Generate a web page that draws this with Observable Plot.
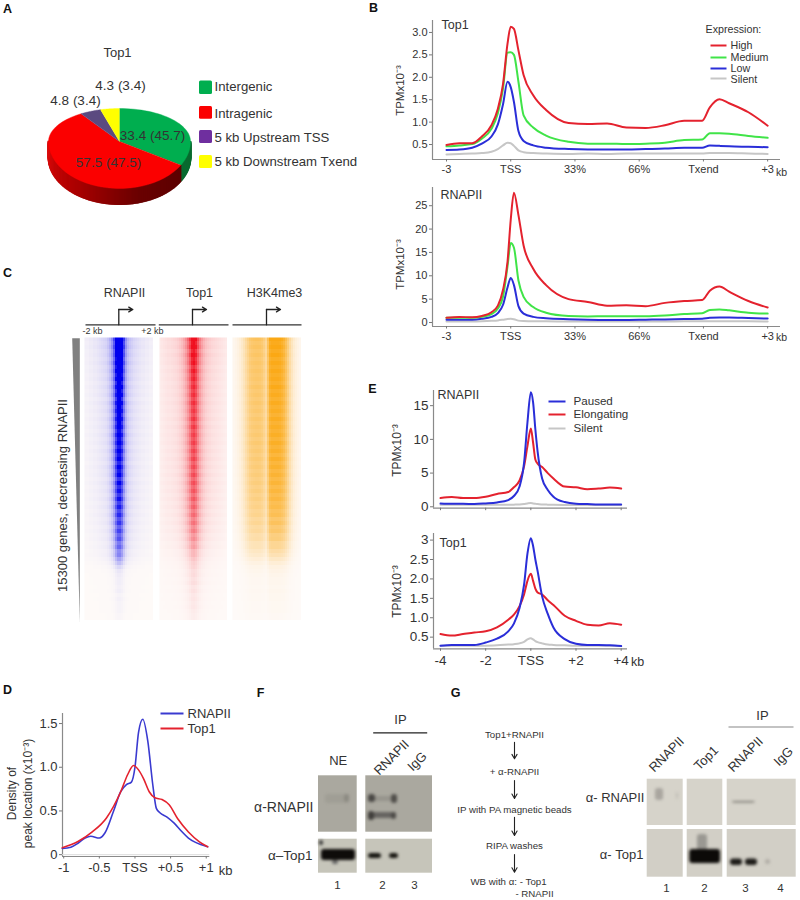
<!DOCTYPE html>
<html><head><meta charset="utf-8">
<script src="https://cdn.jsdelivr.net/npm/d3@7"></script>
<script src="https://cdn.jsdelivr.net/npm/@observablehq/plot@0.6"></script>
<style>
html,body{margin:0;padding:0;background:#fff}
#root{position:relative;width:800px;height:900px;overflow:hidden;background:#fff}
#root svg{position:absolute;max-width:none}
</style></head>
<body><div id="root"></div>
<script>
// ---------- DATA ----------
const pieNames = ["Intergenic","Intragenic","5 kb Upstream TSS","5 kb Downstream Txend"];
const pieValues = [33.4,57.5,4.8,4.3];
const pieColors = ["#00ae4f","#fb0000","#5b4a80","#ffff00"];

const bX = [0,.2,.4,.55,.7,.8,.88,.95,1,1.05,1.12,1.2,1.35,1.55,1.9,2.2,2.5,2.8,3.1,3.4,3.7,3.98,4.1,4.25,4.4,4.7,5];
const bTicks = [0,1,2,3,4,5];
const bLabels = ["-3","TSS","33%","66%","Txend","+3"];
const top1High = [.49,.53,.53,.68,.93,1.3,1.85,2.75,3.13,3.08,2.6,2.05,1.6,1.27,.98,.96,.97,.88,.87,.93,1.03,1.03,1.33,1.51,1.42,1.22,.92];
const top1Medium = [.46,.48,.51,.63,.85,1.2,1.75,2.55,2.56,2.5,1.9,1.15,.88,.7,.56,.52,.52,.51,.52,.54,.6,.61,.75,.75,.74,.69,.65];
const top1Low = [.38,.39,.43,.52,.68,.95,1.4,1.9,1.78,1.45,.8,.58,.48,.43,.4,.39,.39,.39,.4,.41,.43,.43,.48,.47,.46,.45,.44];
const top1Silent = [.28,.29,.3,.31,.34,.4,.48,.54,.53,.47,.37,.33,.31,.3,.29,.3,.29,.3,.3,.3,.3,.3,.31,.31,.31,.3,.29];
const polHigh = [1,1.2,1.1,1.4,2.2,3.6,7,13,22,27.8,23,16.5,11.5,8,5,4.4,3.6,3.7,3.5,4.2,4.6,4.8,6.8,7.7,6.6,4.6,3.2];
const polMedium = [1,1,1,1.2,1.8,3,5.5,12,17,16,9,5.5,3.3,2.1,1.4,1.3,1.35,1.35,1.35,1.5,1.8,2,2.7,2.8,2.6,2.1,1.9];
const polLow = [.6,.6,.6,.8,1.2,2,3.8,7.5,9.5,8,3.5,1.9,1.2,.9,.7,.6,.55,.55,.6,.65,.75,.8,1,1.05,1.05,.95,.85];
const polSilent = [.2,.2,.2,.25,.35,.45,.6,.75,.8,.7,.4,.3,.25,.25,.2,.2,.2,.2,.2,.2,.25,.25,.25,.25,.25,.25,.2];

const eX = [-4,-3.5,-3,-2.5,-2,-1.5,-1,-.75,-.5,-.3,-.15,0,.1,.2,.3,.5,.75,1,1.5,2,2.5,3,3.5,4];
const ePolPaused = [.5,.45,.45,.4,.5,.65,1,1.6,3,6.5,12.5,17,15.5,11.5,8.2,4.2,2.5,1.5,.7,.45,.4,.35,.35,.35];
const ePolElong = [1.3,1.45,1.3,1.3,1.5,1.9,2.2,2.9,3.9,6,9,11.6,9.5,7,6.4,5.9,5,4.2,3,2.9,2.6,2.7,2.85,2.7];
const ePolSilent = [.3,.3,.3,.3,.3,.3,.3,.32,.35,.42,.5,.55,.5,.45,.4,.35,.32,.3,.28,.27,.26,.25,.25,.25];
const eTopPaused = [.28,.3,.3,.3,.36,.46,.65,.85,1.25,1.85,2.65,3.05,2.85,2.5,2.2,1.55,1.1,.75,.45,.33,.3,.3,.29,.27];
const eTopElong = [.58,.54,.58,.62,.65,.75,.95,1.08,1.3,1.6,1.95,2.13,1.95,1.75,1.65,1.6,1.45,1.33,1.05,.92,.82,.8,.86,.82];
const eTopSilent = [.28,.28,.28,.28,.28,.29,.31,.32,.34,.38,.44,.47,.44,.4,.37,.34,.31,.3,.29,.28,.28,.28,.28,.27];

const dPolX = [-1.02,-.9,-.8,-.7,-.62,-.5,-.42,-.3,-.2,-.12,-.05,0,.05,.11,.18,.25,.3,.35,.45,.55,.65,.75,.85,1.02];
const dPol = [.07,.085,.13,.19,.21,.19,.25,.5,.72,.8,.83,1,1.4,1.55,1.3,.8,.53,.48,.43,.36,.27,.19,.14,.09];
const dTopX = [-1.02,-.8,-.6,-.4,-.2,-.1,-.02,.05,.12,.2,.28,.38,.48,.6,.75,.9,1.02];
const dTop = [.08,.15,.26,.42,.72,.92,1.02,.97,.87,.72,.65,.63,.57,.41,.26,.15,.09];

const heatPolRows = [1.7,1.5,1.65,1.4,1.5,1.3,1.5,1.25,1.4,1.2,1.35,1.1,1.3,1.1,1.25,1,1.25,1.05,1.2,1,1.2,1,1.15,.95,1.15,.95,1.1,.9,1.1,.92,1.05,.85,1.05,.9,1,.8,1,.82,.95,.78,.95,.75,.9,.72,.85,.68,.8,.62,.75,.6,.68,.52,.6,.45,.48,.35,.24,.14,.08,.06,.05,.05,.04,.05,.03,.04,.03,.03,.03,.02,.02];
const heatPolCols = [.03,.03,.04,.04,.05,.05,.06,.07,.08,.09,.1,.13,.18,.26,.42,.72,.98,1,.78,.46,.26,.17,.13,.11,.09,.08,.07,.06,.05,.05,.04,.04,.03,.03];
const heatTopRows = [1.3,1.15,1.25,1.05,1.2,1.05,1.12,.95,1.08,.95,1.03,.9,1,.88,.98,.85,.98,.85,.93,.82,.95,.8,.93,.8,.9,.8,.9,.76,.88,.76,.88,.74,.85,.72,.85,.7,.83,.7,.8,.66,.78,.64,.74,.6,.7,.56,.66,.52,.6,.46,.52,.4,.44,.32,.32,.25,.2,.18,.14,.15,.12,.14,.1,.12,.09,.1,.08,.09,.07,.06,.06];
const heatTopCols = [.06,.07,.08,.09,.1,.1,.11,.12,.13,.15,.18,.22,.28,.36,.48,.64,.84,.9,.78,.58,.42,.32,.25,.2,.17,.15,.13,.12,.11,.1,.09,.08,.07,.06];
const heatH3Rows = [1.05,.96,1.02,.94,1,.92,.98,.92,.98,.92,.96,.9,.98,.9,.95,.88,.95,.88,.93,.86,.94,.86,.92,.86,.92,.84,.92,.84,.9,.82,.9,.82,.88,.8,.86,.78,.84,.76,.82,.74,.8,.72,.76,.68,.72,.62,.68,.58,.62,.52,.54,.44,.44,.36,.3,.22,.15,.1,.08,.06,.05,.05,.04,.05,.04,.04,.03,.03,.03,.02,.02];
const heatH3Cols = [.05,.07,.1,.14,.2,.28,.38,.48,.58,.62,.64,.65,.65,.64,.6,.52,.42,.68,.95,1,1,1,1,.98,.92,.84,.7,.54,.38,.26,.17,.12,.08,.05];

// ---------- HELPERS ----------
const FONT = "'Liberation Sans', Arial, sans-serif";
const TXT = "#333";
const root = document.getElementById("root");
function place(svg,left,top){svg.style.left=left+"px";svg.style.top=top+"px";root.append(svg);}
function tidy(xs,names,arrs){return names.flatMap((n,k)=>arrs[k].map((y,i)=>({x:xs[i],y,s:n})));}
const expNames=["Silent","Low","Medium","High"], expColors=["#c6c6c6","#2a2ed8","#40e448","#e4222e"];

function lineChart(o){
  const pad={l:50,r:12,t:6,b:24};
  const w=o.box[1]-o.box[0]+pad.l+pad.r, h=o.box[3]-o.box[2]+pad.t+pad.b;
  const fmt=new Map(o.xTicks.map((t,i)=>[t,o.xLabels[i]]));
  const marks=[
    Plot.ruleX([o.xDomain[0]],{stroke:"#8a8a8a",strokeWidth:1.2}),
    Plot.ruleY([o.yDomain[0]],{stroke:"#8a8a8a",strokeWidth:1.2}),
    Plot.axisX({ticks:o.xTicks,tickFormat:d=>fmt.get(d),label:null,tickSize:2.5,tickPadding:o.xPad||3,fontSize:o.fs,stroke:"#777",fill:TXT}),
    Plot.axisY({ticks:o.yTicks,tickFormat:o.yFormat,label:null,tickSize:3,tickPadding:2,fontSize:o.fsY||o.fs,stroke:"#777",fill:TXT}),
    ...(o.extra||[]),
    Plot.line(o.rows,{x:"x",y:"y",z:"s",stroke:"s",strokeWidth:o.sw||2,curve:"monotone-x",strokeLinejoin:"round"})
  ];
  const svg=Plot.plot({width:w,height:h,marginLeft:pad.l,marginRight:pad.r,marginTop:pad.t,marginBottom:pad.b,
    style:{background:"transparent",fontFamily:FONT,overflow:"visible"},
    x:{domain:o.xDomain,label:null},y:{domain:o.yDomain,label:null},
    color:{domain:o.names,range:o.colors},marks});
  place(svg,o.box[0]-pad.l,o.box[2]-pad.t);
}
function heat(box,rows,cols,color){
  const vals=rows.flatMap(r=>cols.map(c=>Math.min(1,r*c)));
  const svg=Plot.plot({width:box[1]-box[0],height:box[3]-box[2],margin:0,
    style:{background:"transparent"},
    x:{domain:[0,cols.length],axis:null},y:{domain:[rows.length,0],axis:null},
    color:{type:"linear",domain:[0,1],range:["#fefaf8",color]},
    marks:[Plot.raster(vals,{width:cols.length,height:rows.length,x1:0,x2:cols.length,y1:0,y2:rows.length,fill:d=>d,imageRendering:"pixelated"})]});
  place(svg,box[0],box[2]);
}

// ---------- PANEL A : pie ----------
(function(){
  const rx=71,upper=33/71,lower=47/71,depth=17/71;
  const total=d3.sum(pieValues);
  let acc=0; const poly=[];
  const edge=t=>({x:Math.sin(t),y:Math.cos(t)*(Math.cos(t)>0?upper:lower)});
  pieValues.forEach((v,k)=>{
    const a0=acc/total*2*Math.PI,a1=(acc+v)/total*2*Math.PI; acc+=v;
    poly.push({k,c:pieColors[k],x:0,y:0});
    for(const t of d3.range(0,41)) poly.push({k,c:pieColors[k],...edge(a0+(a1-a0)*t/40)});
  });
  const g=pieValues[0]/total*2*Math.PI;
  const ang=d3.range(90,271,.7).map(d=>d*Math.PI/180);
  const redShade=d3.scaleLinear().domain([120,165,215,270].map(d=>d*Math.PI/180)).range(["#5c0000","#6a0000","#a80000","#d80a0a"]);
  const strips=ang.map(t=>({...edge(t),c:t<g?"#0a6b30":redShade(t)}));
  const svg=Plot.plot({width:180,height:125,margin:0,
    style:{background:"transparent"},
    x:{domain:[-79/rx,101/rx],axis:null},y:{domain:[-84/rx,41/rx],axis:null},
    color:{type:"identity"},
    marks:[
      Plot.ruleX(strips,{x:"x",y1:"y",y2:d=>d.y-depth,stroke:"c",strokeWidth:1.8}),
      Plot.line(poly,{x:"x",y:"y",z:"k",fill:"c",stroke:"c",strokeWidth:.4})
    ]});
  place(svg,40,100);
})();

// ---------- ANNOTATION LAYER ----------
const blotPanels=[
 {x1:318,x2:356.7,y1:775.3,y2:831.7,c:"#aaa89f"},{x1:365.3,x2:432,y1:775.3,y2:831.7,c:"#aaa89f"},
 {x1:318,x2:356.7,y1:838.7,y2:872.7,c:"#c6c5ba"},{x1:365.3,x2:432,y1:838.7,y2:872.7,c:"#c6c5ba"},
 {x1:646.7,x2:682.7,y1:778.7,y2:825,c:"#d6d3ca"},{x1:686.7,x2:722.3,y1:778.7,y2:825,c:"#d6d3ca"},{x1:726.7,x2:795.7,y1:778.7,y2:825,c:"#d6d3ca"},
 {x1:646.7,x2:682.7,y1:829,y2:876.7,c:"#d2cfc6"},{x1:686.7,x2:722.3,y1:829,y2:876.7,c:"#d2cfc6"},{x1:726.7,x2:795.7,y1:829,y2:876.7,c:"#d2cfc6"}];
const blotBands=[
 {x1:325,x2:349,y1:794,y2:803,c:"#a09e95"},{x1:344,x2:349,y1:794,y2:802,c:"#8c8a82"},
 {x1:369,x2:396,y1:796,y2:801,c:"#96948c"},{x1:368,x2:375,y1:794,y2:802,c:"#4a4845"},{x1:391,x2:397,y1:794,y2:803,c:"#504e4a"},
 {x1:369,x2:396,y1:812,y2:818,c:"#666460"},{x1:368,x2:374,y1:811,y2:820,c:"#403e3b"},{x1:391,x2:396,y1:812,y2:819,c:"#4c4a47"},
 {x1:321,x2:355,y1:849,y2:860,c:"#0e0c0a"},{x1:319,x2:323,y1:840,y2:845,c:"#333"},{x1:332,x2:338,y1:860,y2:864,c:"#666"},
 {x1:368,x2:381,y1:853,y2:858,c:"#15140f"},{x1:389,x2:398,y1:853,y2:858,c:"#15140f"},
 {x1:655,x2:663,y1:788,y2:800,c:"#a9a59f"},{x1:676,x2:678,y1:792,y2:799,c:"#c0bdb5"},
 {x1:731.7,x2:755,y1:801,y2:802.5,c:"#77756e"},
 {x1:697,x2:707,y1:834,y2:851,c:"#9a9892"},{x1:689.3,x2:720,y1:849,y2:863,c:"#0c0a08"},
 {x1:730,x2:742,y1:858.5,y2:865,c:"#1d1b18"},{x1:745,x2:757,y1:858.5,y2:865,c:"#1d1b18"},
 {x1:765,x2:770,y1:859,y2:864,c:"#b1ada6"}];
const panelLetters=[["A",7,8],["B",373,7],["C",7,272],["D",7,689],["E",372,388],["F",260,692],["G",455,692]].map(([t,x,y])=>({t,x,y}));
const textStart=[
 ["Intergenic",214,86,13.2],["Intragenic",214,113,13.2],["5 kb Upstream TSS",214,137,13.2],["5 kb Downstream Txend",214,161,13.2],
 ["Top1",441,24,12.5],["RNAPII",440,194,12.5],["Expression:",705,29,10.7],["High",730,45,10.7],["Medium",730,57,10.7],["Low",730,68,10.7],["Silent",730,79,10.7],
 ["RNAPII",437,394,12.5],["Top1",439,542,12.5],["Paused",573,401,11.6],["Elongating",573,414,11.6],["Silent",573,428,11.6],
 ["RNAPII",187,713,13],["Top1",187,728,13]
].map(([t,x,y,s])=>({t,x,y,s}));
const textMiddle=[
 ["Top1",117,52,13],["4.3 (3.4)",120,85,13.5],["4.8 (3.4)",75,100,13.5],["33.4 (45.7)",152,135,13.5],["57.5 (47.5)",108,162,13.5],
 ["kb",781,172,10.5],["kb",781,337,10.5],
 ["RNAPII",124,292,12.5],["Top1",199,292,12.5],["H3K4me3",274,292,12.5],["-2 kb",92,331,9],["+2 kb",152,331,9],
 ["kb",637,661,12.5],["kb",225,870,13],
 ["IP",400,719,13],["NE",337.7,760,13],["1",337,885,11.5],["2",382,885,11.5],["3",414,885,11.5],
 ["IP",762,715,13],["1",666,888,11.5],["2",704,888,11.5],["3",745,888,11.5],["4",780,888,11.5],
 ["Top1+RNAPII",514,734,9.7],["+ α-RNAPII",514,771,9.7],["IP with PA magnetic beads",514,809,9.7],["RIPA washes",514,845,9.7],["WB with α: - Top1",508,881,9.7],["- RNAPII",534,893,9.7]
].map(([t,x,y,s])=>({t,x,y,s}));
const textEnd=[["α-RNAPII",313,807,14],["α–Top1",312,855,13.5],["α- RNAPII",644,797,13],["α- Top1",643,854,13]].map(([t,x,y,s])=>({t,x,y,s}));
const textRot=[
 ["TPMx10⁻³",400,90,11.5],["TPMx10⁻³",400,264,11.5],["15300 genes, decreasing RNAPII",62.7,495,13],
 ["TPMx10⁻³",397,450,12],["TPMx10⁻³",397,591,12],["Density of",12,793,12],["peak location (x10⁻³)",28,793,12]
].map(([t,x,y,s])=>({t,x,y,s}));
const textTilt=[["RNAPII",391,757,13],["IgG",416.7,761,13],["RNAPII",666,754,13],["Top1",705.7,757.7,13],["RNAPII",745,754,13],["IgG",783,756,13]].map(([t,x,y,s])=>({t,x,y,s}));
const legendKeys=[
 {x1:710,x2:726,y:45,c:"#e4222e"},{x1:710,x2:726,y:57,c:"#40e448"},{x1:710,x2:726,y:68,c:"#2a2ed8"},{x1:710,x2:726,y:78,c:"#c6c6c6"},
 {x1:548,x2:565,y:401,c:"#2a2ed8"},{x1:548,x2:565,y:414,c:"#e4222e"},{x1:548,x2:565,y:428,c:"#c6c6c6"},
 {x1:160,x2:183,y:713,c:"#3a3ad0"},{x1:160,x2:183,y:728,c:"#e4222e"}];
const swatchColors=["#00ae4f","#fb0000","#6f2f9f","#ffff00"];
const keySwatches=swatchColors.map((c,i)=>({c,y1:[80.5,106,130,155][i],y2:[94,118.7,143,168][i]}));
const rules=[
 {x1:85,x2:155,y:324.3,c:"#333"},{x1:158.3,x2:228,y:324.3,c:"#333"},{x1:232,x2:301,y:324.3,c:"#333"},
 {x1:372.7,x2:426.7,y:732.3,c:"#222"},{x1:728,x2:793,y:726.5,c:"#888"}];
const tssElbows=[118.3,192,266];
const flowArrows=[[741.7,758.3],[780,798],[816.7,835],[854,871.7]];
const wedge=[{x:71.7,y:337.7},{x:79.3,y:337.7},{x:79.3,y:621.7}];

place(Plot.plot({width:800,height:900,margin:0,
  style:{background:"transparent",fontFamily:FONT,color:TXT},
  x:{domain:[0,800],axis:null},y:{domain:[900,0],axis:null},color:{type:"identity"},
  marks:[
   Plot.rect(blotPanels,{x1:"x1",x2:"x2",y1:"y1",y2:"y2",fill:"c"}),
   Plot.rect(blotBands,{x1:"x1",x2:"x2",y1:"y1",y2:"y2",fill:"c",rx:3,imageFilter:"blur(1.4px)"}),
   Plot.rect(keySwatches,{x1:199,x2:212,y1:"y1",y2:"y2",fill:"c",rx:1.5}),
   Plot.line(wedge,{x:"x",y:"y",fill:"#808080",stroke:"none"}),
   Plot.link(legendKeys,{x1:"x1",x2:"x2",y1:"y",y2:"y",stroke:"c",strokeWidth:2}),
   Plot.link(rules,{x1:"x1",x2:"x2",y1:"y",y2:"y",stroke:"c",strokeWidth:1.2}),
   Plot.line(tssElbows.flatMap((x,k)=>[{k,x,y:324.3},{k,x,y:309}]),{x:"x",y:"y",z:"k",stroke:"#222",strokeWidth:1.3}),
   Plot.arrow(tssElbows,{x1:d=>d,x2:d=>d+14,y1:309,y2:309,bend:0,headLength:7,stroke:"#222",strokeWidth:1.3}),
   Plot.arrow(flowArrows,{x1:514,x2:514,y1:d=>d[0],y2:d=>d[1],bend:0,headLength:7,stroke:"#222",strokeWidth:1.1}),
   Plot.text(panelLetters,{x:"x",y:"y",text:"t",fontSize:12.5,fontWeight:700,fill:"#111"}),
   Plot.text(textStart,{x:"x",y:"y",text:"t",fontSize:d=>d.s,textAnchor:"start",fill:TXT}),
   Plot.text(textMiddle,{x:"x",y:"y",text:"t",fontSize:d=>d.s,fill:TXT}),
   Plot.text(textEnd,{x:"x",y:"y",text:"t",fontSize:d=>d.s,textAnchor:"end",fill:TXT}),
   Plot.text(textRot,{x:"x",y:"y",text:"t",fontSize:d=>d.s,rotate:-90,fill:TXT}),
   Plot.text(textTilt,{x:"x",y:"y",text:"t",fontSize:d=>d.s,rotate:-45,fill:TXT})
  ]}),0,0);

// ---------- PANEL B ----------
lineChart({box:[432,780,20,159],xDomain:[-.218,5.2],yDomain:[.166,3.267],fs:11,
  xTicks:bTicks,xLabels:bLabels,yTicks:[.5,1,1.5,2,2.5,3],yFormat:d3.format(".1f"),
  names:expNames,colors:expColors,
  rows:tidy(bX,expNames,[top1Silent,top1Low,top1Medium,top1High])});
lineChart({box:[432,780,186.7,325.7],xDomain:[-.218,5.2],yDomain:[-.857,28.9],fs:11,
  xTicks:bTicks,xLabels:bLabels,yTicks:[0,5,10,15,20,25],yFormat:d3.format("d"),
  names:expNames,colors:expColors,
  rows:tidy(bX,expNames,[polSilent,polLow,polMedium,polHigh])});

// ---------- PANEL C ----------
heat([84.3,152.7,336.7,620],heatPolRows,heatPolCols,"#0000ee");
heat([159,226.7,336.7,620],heatTopRows,heatTopCols,"#f01020");
heat([232,300.7,336.7,620],heatH3Rows,heatH3Cols,"#fba814");

// ---------- PANEL D ----------
lineChart({box:[61.7,209,713,856],xDomain:[-1.017,1.05],yDomain:[-.021,1.55+.065],fs:13,xPad:4,
  xTicks:[-1,-.5,0,.5,1],xLabels:["-1","-0.5","TSS","+0.5","+1"],yTicks:[0,.5,1,1.5],yFormat:d=>d===0?"0":d3.format(".1f")(d),
  names:["RNAPII","Top1"],colors:["#3a3ad0","#e4222e"],sw:1.6,
  extra:[Plot.ruleY([0],{stroke:"#ddd"})],
  rows:[...dPol.map((y,i)=>({x:dPolX[i],y,s:"RNAPII"})),...dTop.map((y,i)=>({x:dTopX[i],y,s:"Top1"}))]});

// ---------- PANEL E ----------
const eNames=["Silent","Elongating","Paused"],eColors=["#c6c6c6","#e4222e","#2a2ed8"];
lineChart({box:[433,627,390,507.7],xDomain:[-4.31,4.28],yDomain:[-.207,17.25],fs:13.5,
  xTicks:[-4,-2,0,2,4],xLabels:["","","","",""],yTicks:[0,5,10,15],yFormat:d3.format("d"),
  names:eNames,colors:eColors,rows:tidy(eX,eNames,[ePolSilent,ePolElong,ePolPaused])});
lineChart({box:[433,627,532.7,648],xDomain:[-4.31,4.28],yDomain:[.2,3.17],fs:13.5,xPad:4,
  xTicks:[-4,-2,0,2,4],xLabels:["-4","-2","TSS","+2","+4"],yTicks:[.5,1,1.5,2,2.5,3],yFormat:d=>d===3?"3":d3.format(".1f")(d),
  names:eNames,colors:eColors,rows:tidy(eX,eNames,[eTopSilent,eTopElong,eTopPaused])});
</script></body></html>
